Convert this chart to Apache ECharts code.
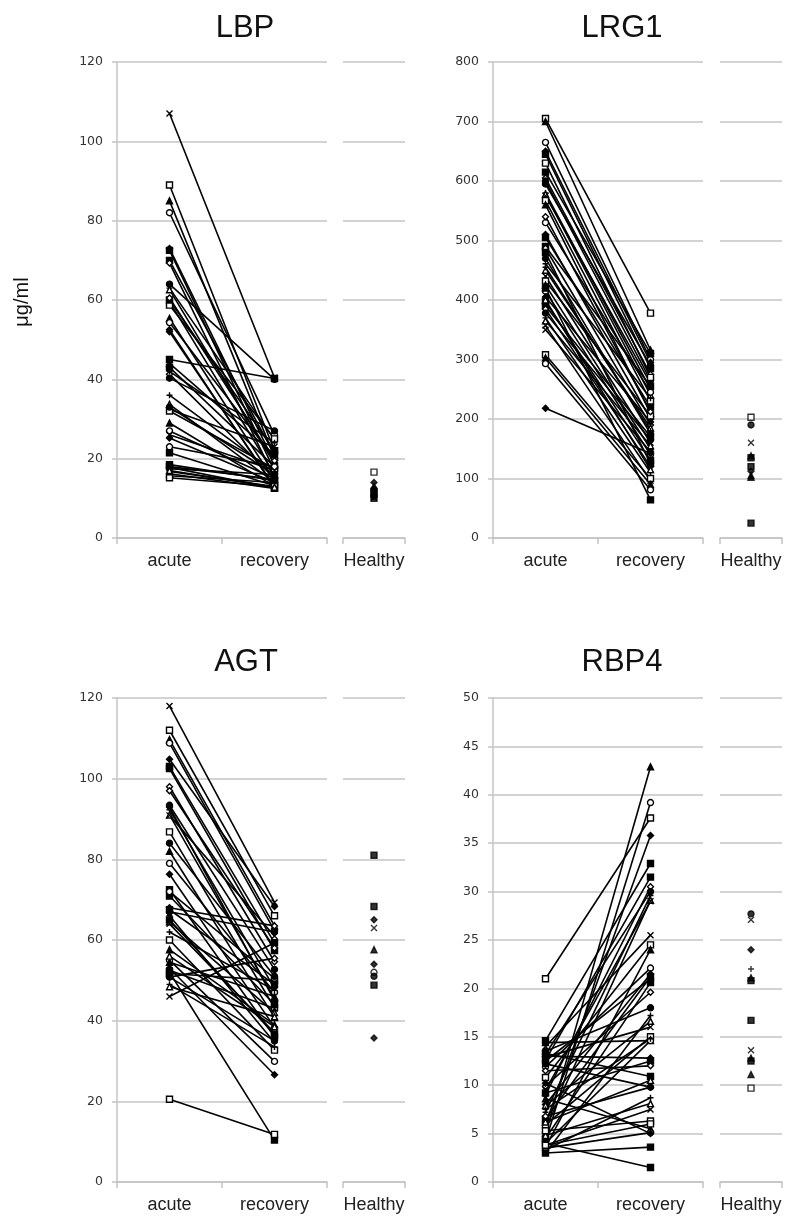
<!DOCTYPE html>
<html><head><meta charset="utf-8">
<script src="https://cdn.jsdelivr.net/npm/echarts@6/dist/echarts.min.js"></script>
<style>html,body{margin:0;padding:0;background:#fff}#c{width:787px;height:1221px}</style>
</head><body><div id="c"></div>
<script>
// ---------- data ----------
const categories = ['acute', 'recovery'];
const healthyCategory = ['Healthy'];
const panelTitles = ['LBP', 'LRG1', 'AGT', 'RBP4'];
const unitLabel = 'μg/ml';

const lbpAcute    = [107, 89, 85, 82, 73, 72.5, 70, 69.3, 64, 63, 62.6, 59.6, 58.7, 55.4, 54.3, 52, 45, 43, 41.3, 40.3, 36, 33.7, 32.4, 32, 29, 27, 25.2, 21.5, 18.5, 17.8, 17.5, 16.8, 16.2, 15.7, 15.2, 44, 23, 52.5, 60, 18, 60.5, 33, 42, 17, 26];
const lbpRecovery = [40.4, 22, 20.4, 26, 19, 17, 21, 15.2, 40, 24.8, 18.7, 16, 25, 14.3, 20, 13, 40.2, 18, 15, 27, 16.5, 14, 23, 17.5, 13, 15, 14, 13.2, 14.5, 12.6, 16, 13, 12.5, 14, 13, 21, 18, 12.6, 22, 14.8, 19.5, 16, 24, 12.8, 17];
const lbpHealthy  = [16.6, 14, 13, 12.3, 11.6, 11, 10.5, 10.2, 10];

const lrg1Acute    = [705, 700, 665, 650, 645, 615, 605, 600, 580, 578, 575, 567, 560, 530, 510, 505, 490, 487, 470, 461, 450, 440, 432, 425, 415, 405, 397, 390, 385, 378, 370, 365, 357, 308, 303, 293, 218, 420, 480, 540, 595, 455, 400, 350, 630];
const lrg1Recovery = [378, 316, 300, 295, 285, 310, 275, 265, 250, 240, 260, 230, 210, 245, 200, 220, 255, 190, 175, 235, 185, 160, 205, 150, 140, 195, 130, 170, 120, 165, 110, 155, 96, 100, 90, 81, 142, 64, 125, 212, 290, 180, 115, 145, 270];
const lrg1Healthy  = [203, 190, 160, 138, 135, 120, 112, 105, 102, 25];

const agtAcute    = [118, 112, 109.7, 108.8, 104.8, 103, 102.5, 98, 93.4, 92.3, 91, 90.9, 86.8, 82, 79, 76.3, 72.5, 70.9, 68, 67, 66, 64.5, 64, 60, 57.6, 55, 53, 52, 51.7, 50.8, 50.8, 49, 48.4, 46, 20.5, 54.5, 72, 93, 67.5, 65, 97, 84, 62, 56, 52.5];
const agtRecovery = [69.3, 66, 63.5, 62.3, 68.3, 59.3, 57.4, 54.6, 52.7, 48, 45.6, 61, 43.2, 40.8, 47, 38.4, 36, 44, 63.5, 62, 34.6, 42, 37, 32.7, 39, 29.9, 26.6, 10.4, 50, 55.5, 35, 33.5, 41, 59.3, 11.8, 46, 50.5, 45, 49, 36.5, 58, 51, 47.5, 38.5, 43];
const agtHealthy  = [81, 68.3, 65, 63, 57.6, 54, 52, 51, 48.8, 35.7];

const rbp4Acute    = [21.0, 5.0, 4.2, 6.0, 14.6, 12.6, 9.0, 13.2, 7.2, 5.5, 14.0, 10.8, 3.6, 11.9, 8.0, 6.5, 4.5, 9.9, 13.5, 3.0, 7.9, 12.9, 5.9, 14.4, 4.0, 13.0, 9.2, 13.3, 6.8, 12.2, 3.3, 4.8, 3.8, 5.3, 8.6, 3.5, 10.2, 3.0, 4.0, 11.5, 12.5, 7.5, 6.2, 9.5, 3.8];
const rbp4Recovery = [37.6, 42.9, 39.2, 35.8, 32.9, 31.5, 30.5, 30.0, 29.6, 29.1, 25.5, 24.5, 24.0, 22.1, 21.5, 21.2, 20.6, 19.6, 18.0, 17.2, 16.6, 16.0, 15.0, 14.6, 14.6, 12.8, 12.5, 10.9, 9.8, 9.8, 8.7, 8.1, 7.5, 6.3, 5.5, 5.1, 5.0, 3.6, 1.5, 12.0, 21.0, 14.8, 10.5, 29.0, 6.0];
const rbp4Healthy  = [27.7, 27.1, 24, 22, 21.1, 20.8, 16.7, 13.6, 12.8, 12.5, 11.1, 9.7];

const yMax = [120, 800, 120, 50];
const yInterval = [20, 100, 20, 5];

// ---------- styles ----------
const GRID = '#c4c4c4';
const markers = [
  {symbol: 'path://M0,0L10,10M10,0L0,10', fill: '#000'},   // 0 x
  {symbol: 'rect', fill: '#fff'},                           // 1 open square
  {symbol: 'triangle', fill: '#000'},                       // 2
  {symbol: 'circle', fill: '#fff'},                         // 3 open circle
  {symbol: 'diamond', fill: '#000'},                        // 4
  {symbol: 'rect', fill: '#000'},                           // 5
  {symbol: 'path://M0,4L10,4L10,6L0,6Z', fill: '#000'},     // 6 dash
  {symbol: 'diamond', fill: '#fff'},                        // 7
  {symbol: 'circle', fill: '#000'},                         // 8
  {symbol: 'path://M5,0L5,10M0,5L10,5', fill: '#000'},      // 9 plus
  {symbol: 'triangle', fill: '#fff'}                        // 10
];
const markerOffset = [0, 1, 0, 1];
const healthyMarkerIdx = [
  [1, 4, 2, 8, 6, 5, 8, 0, 5],
  [1, 8, 0, 2, 6, 6, 4, 2, 2, 5],
  [5, 6, 4, 0, 2, 4, 3, 8, 6, 4],
  [8, 0, 4, 9, 2, 5, 6, 0, 2, 5, 2, 1]
];

const layout = [
  {main: {left: 117, top: 62, width: 210, height: 476}, healthy: {left: 343, top: 62, width: 62, height: 476}},
  {main: {left: 493, top: 62, width: 210, height: 476}, healthy: {left: 720, top: 62, width: 62, height: 476}},
  {main: {left: 117, top: 698, width: 210, height: 484}, healthy: {left: 343, top: 698, width: 62, height: 484}},
  {main: {left: 493, top: 698, width: 210, height: 484}, healthy: {left: 720, top: 698, width: 62, height: 484}}
];
const titlePos = [[245, 28], [622, 28], [246, 662], [622, 662]];

const panels = [
  [lbpAcute, lbpRecovery, lbpHealthy],
  [lrg1Acute, lrg1Recovery, lrg1Healthy],
  [agtAcute, agtRecovery, agtHealthy],
  [rbp4Acute, rbp4Recovery, rbp4Healthy]
];

const grid = [], xAxis = [], yAxis = [], series = [];
const catLabel = {color: '#222', fontSize: 18, fontFamily: 'Liberation Sans, Arial, sans-serif', margin: 14};

panels.forEach((p, k) => {
  const gi = k * 2;
  grid.push(layout[k].main, layout[k].healthy);
  xAxis.push({
    gridIndex: gi, type: 'category', data: categories, boundaryGap: true,
    axisLine: {lineStyle: {color: GRID, width: 1.5}},
    axisTick: {show: true, length: 6, lineStyle: {color: GRID, width: 1.5}},
    axisLabel: catLabel
  }, {
    gridIndex: gi + 1, type: 'category', data: healthyCategory, boundaryGap: true,
    axisLine: {lineStyle: {color: GRID, width: 1.5}},
    axisTick: {show: true, length: 6, lineStyle: {color: GRID, width: 1.5}},
    axisLabel: catLabel
  });
  yAxis.push({
    gridIndex: gi, type: 'value', min: 0, max: yMax[k], interval: yInterval[k],
    axisLine: {show: true, lineStyle: {color: GRID, width: 1.5}},
    axisTick: {show: true, length: 5, lineStyle: {color: GRID, width: 1.5}},
    splitLine: {lineStyle: {color: GRID, width: 1.5}},
    axisLabel: {color: '#333', fontSize: 12.5, fontFamily: 'DejaVu Sans, Verdana, sans-serif', margin: 14}
  }, {
    gridIndex: gi + 1, type: 'value', min: 0, max: yMax[k], interval: yInterval[k],
    axisLine: {show: false}, axisTick: {show: false}, axisLabel: {show: false},
    splitLine: {lineStyle: {color: GRID, width: 1.5}}
  });
  const [acute, recovery, healthy] = p;
  acute.forEach((a, i) => {
    const m = markers[(i + markerOffset[k]) % markers.length];
    series.push({
      type: 'line', xAxisIndex: gi, yAxisIndex: gi,
      data: [a, recovery[i]],
      symbol: m.symbol, symbolSize: 6, showSymbol: true,
      lineStyle: {color: '#000', width: 1.6},
      itemStyle: {color: m.fill, borderColor: '#000', borderWidth: 1.4},
      silent: true, animation: false
    });
  });
  series.push({
    type: 'scatter', xAxisIndex: gi + 1, yAxisIndex: gi + 1,
    data: healthy.map((v, i) => {
      const m = markers[healthyMarkerIdx[k][i]];
      return {value: [0, v], symbol: m.symbol, itemStyle: {color: m.fill, borderColor: '#000', borderWidth: 1.4}};
    }),
    symbolSize: 6, silent: true, animation: false
  });
});

const graphic = panelTitles.map((t, k) => ({
  type: 'text', x: titlePos[k][0], y: titlePos[k][1],
  style: {text: t, fill: '#111', font: '31px "Liberation Sans", Arial, sans-serif', textAlign: 'center', textVerticalAlign: 'middle'}
}));
graphic.push({
  type: 'text', x: 22, y: 302, rotation: Math.PI / 2,
  style: {text: unitLabel, fill: '#111', font: '20px "Liberation Sans", Arial, sans-serif', textAlign: 'center', textVerticalAlign: 'middle'}
});

const chart = echarts.init(document.getElementById('c'), null, {renderer: 'canvas'});
chart.setOption({animation: false, grid, xAxis, yAxis, series, graphic});
</script>
</body></html>
